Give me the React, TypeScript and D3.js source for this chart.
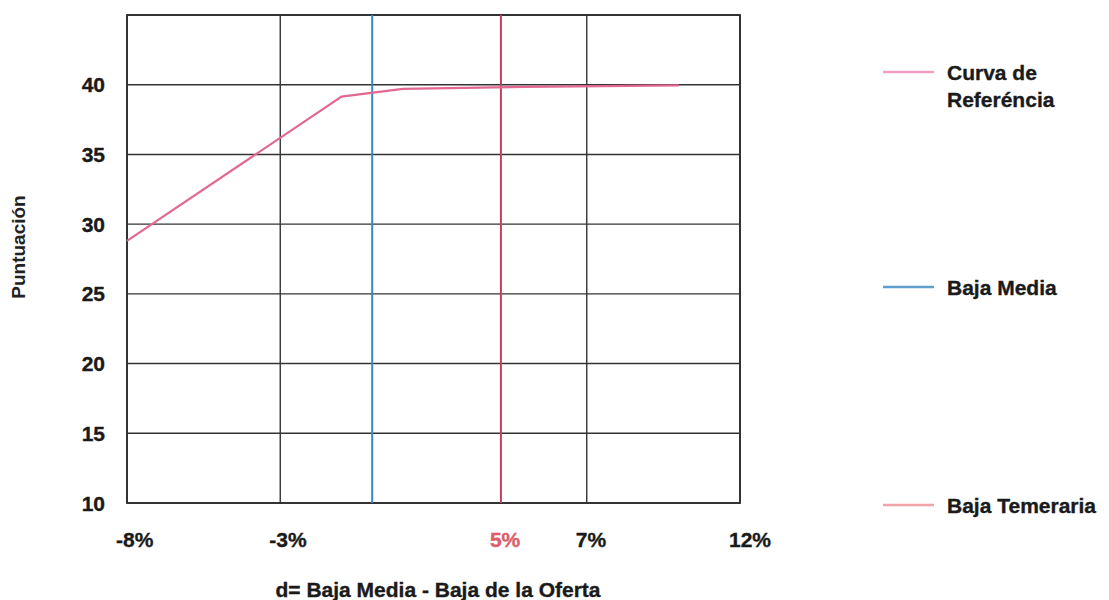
import React, { useRef, useEffect } from 'react';
import * as d3 from 'd3';

// Curva de referencia (d en %, puntuación)
const curveX = [-8, -1, 1, 5, 10];
const curveY = [28.8, 39.15, 39.7, 39.85, 39.95];

// vertical reference lines
const bajaMedia = 0;
const bajaTemeraria = 4.2;
const bajaTemerariaLabel = '5%';

const xTicks = [-8, -3, 7, 12];
const xTickLabels = ['-8%', '-3%', '7%', '12%'];
const yTicks = [10, 15, 20, 25, 30, 35, 40];

const legendLabels = [['Curva de', 'Referéncia'], ['Baja Media'], ['Baja Temeraria']];
const legendColors = ['#f29cc4', '#5f9fcb', '#f0a3a8'];

const WIDTH = 1109;
const HEIGHT = 600;
const FONT = '"Liberation Sans", Arial, sans-serif';

const App: React.FC = () => {
  const svgRef = useRef<SVGSVGElement>(null);

  useEffect(() => {
    if (!svgRef.current) return;
    const svg = d3.select(svgRef.current);
    svg.selectAll('*').remove();

    const left = 127, right = 740, top = 15, bottom = 503;
    const x = d3.scaleLinear().domain([-8, 12]).range([left, right]);
    const y = d3.scaleLinear().domain([10, 45]).range([bottom, top]);

    svg.append('rect').attr('width', WIDTH).attr('height', HEIGHT).attr('fill', '#fff');

    // small helper for the bold labels (scan looks a bit heavier)
    const label = (tx: number, ty: number, t: string, color = '#1a1a1a') =>
      svg.append('text')
        .attr('x', tx).attr('y', ty)
        .attr('font-family', FONT).attr('font-weight', 'bold').attr('font-size', 21)
        .attr('fill', color).attr('stroke', color).attr('stroke-width', 0.35)
        .text(t);

    // horizontal grid
    const grid = svg.append('g').attr('stroke', '#333').attr('stroke-width', 1.4);
    yTicks.concat([45]).forEach(v => {
      grid.append('line')
        .attr('x1', left).attr('x2', right)
        .attr('y1', y(v)).attr('y2', y(v));
    });
    // vertical grid
    xTicks.forEach(v => {
      grid.append('line')
        .attr('x1', x(v)).attr('x2', x(v))
        .attr('y1', top).attr('y2', bottom);
    });

    // border
    svg.append('rect')
      .attr('x', left).attr('y', top)
      .attr('width', right - left).attr('height', bottom - top)
      .attr('fill', 'none').attr('stroke', '#2e2e2e').attr('stroke-width', 1.8);

    // reference lines
    svg.append('line')
      .attr('x1', x(bajaMedia)).attr('x2', x(bajaMedia))
      .attr('y1', top).attr('y2', bottom)
      .attr('stroke', '#2f8ac6').attr('stroke-width', 2);
    svg.append('line')
      .attr('x1', x(bajaTemeraria)).attr('x2', x(bajaTemeraria))
      .attr('y1', top).attr('y2', bottom)
      .attr('stroke', '#c2425e').attr('stroke-width', 2);

    // curve
    const pts = curveX.map((v, i) => [v, curveY[i]] as [number, number]);
    const line = d3.line<[number, number]>().x(d => x(d[0])).y(d => y(d[1]));
    svg.append('path')
      .attr('d', line(pts) as string)
      .attr('fill', 'none')
      .attr('stroke', '#e2688f')
      .attr('stroke-width', 2.2);

    // y tick labels
    yTicks.forEach(v => {
      label(105, y(v) + 7.5, String(v)).attr('text-anchor', 'end');
    });

    // x tick labels
    xTicks.forEach((v, i) => {
      label(x(v) - 11, 547, xTickLabels[i]);
    });
    label(x(bajaTemeraria) - 11, 547, bajaTemerariaLabel, '#dc5c6a');

    // axis titles
    label(438, 597, 'd= Baja Media - Baja de la Oferta').attr('text-anchor', 'middle');
    svg.append('text')
      .attr('transform', 'translate(25, 247) rotate(-90)')
      .attr('text-anchor', 'middle')
      .attr('font-family', FONT).attr('font-weight', 'bold').attr('font-size', 19)
      .attr('fill', '#222')
      .text('Puntuación');

    // legend
    const legendY = [72, 287, 505];
    legendLabels.forEach((lines, i) => {
      const ly = legendY[i];
      svg.append('line')
        .attr('x1', 883).attr('x2', 934)
        .attr('y1', ly).attr('y2', ly)
        .attr('stroke', legendColors[i]).attr('stroke-width', 2.5);
      lines.forEach((t, j) => {
        label(947, ly + 8 + j * 27, t);
      });
    });
  }, []);

  return (
    <svg
      ref={svgRef}
      width={WIDTH}
      height={HEIGHT}
      style={{ position: 'absolute', left: 0, top: 0, display: 'block' }}
    />
  );
};

export default App;
